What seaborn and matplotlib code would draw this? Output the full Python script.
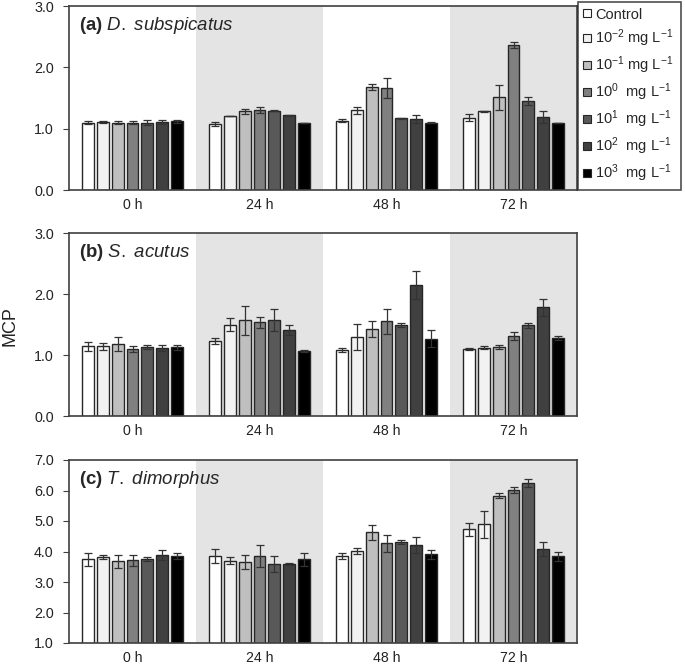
import numpy as np
import pandas as pd
import matplotlib
matplotlib.use("Agg")
import matplotlib.pyplot as plt
from matplotlib.lines import Line2D
import seaborn as sns

# Data: mean and error per time point (rows) and concentration (columns).
times = ["0 h", "24 h", "48 h", "72 h"]
concs = ["Control", "1e-2", "1e-1", "1e0", "1e1", "1e2", "1e3"]
conc_labels = ["Control",
               r"10$^{-2}$ mg L$^{-1}$",
               r"10$^{-1}$ mg L$^{-1}$",
               r"10$^{0}$  mg L$^{-1}$",
               r"10$^{1}$  mg L$^{-1}$",
               r"10$^{2}$  mg L$^{-1}$",
               r"10$^{3}$  mg L$^{-1}$"]
colors = ["#ffffff", "#f2f2f2", "#bfbfbf", "#808080", "#595959", "#404040", "#000000"]

a_mean = [[1.10, 1.11, 1.10, 1.10, 1.10, 1.11, 1.12],
          [1.08, 1.21, 1.28, 1.30, 1.29, 1.22, 1.09],
          [1.13, 1.30, 1.68, 1.66, 1.17, 1.16, 1.10],
          [1.18, 1.28, 1.51, 2.36, 1.45, 1.19, 1.10]]
a_err = [[0.03, 0.02, 0.02, 0.03, 0.04, 0.03, 0.02],
         [0.03, 0.00, 0.04, 0.05, 0.01, 0.01, 0.00],
         [0.02, 0.06, 0.05, 0.16, 0.01, 0.06, 0.01],
         [0.06, 0.01, 0.20, 0.05, 0.06, 0.09, 0.00]]

b_mean = [[1.14, 1.14, 1.18, 1.10, 1.13, 1.11, 1.13],
          [1.23, 1.50, 1.57, 1.54, 1.57, 1.41, 1.07],
          [1.08, 1.30, 1.43, 1.55, 1.49, 2.15, 1.27],
          [1.10, 1.12, 1.13, 1.31, 1.49, 1.78, 1.28]]
b_err = [[0.08, 0.05, 0.11, 0.05, 0.03, 0.05, 0.04],
         [0.05, 0.11, 0.24, 0.09, 0.18, 0.09, 0.02],
         [0.03, 0.21, 0.13, 0.20, 0.03, 0.23, 0.14],
         [0.02, 0.02, 0.03, 0.07, 0.04, 0.14, 0.03]]

c_mean = [[3.74, 3.82, 3.68, 3.71, 3.76, 3.88, 3.84],
          [3.84, 3.70, 3.66, 3.84, 3.58, 3.60, 3.74],
          [3.86, 4.01, 4.63, 4.27, 4.31, 4.21, 3.91],
          [4.73, 4.89, 5.83, 6.02, 6.24, 4.09, 3.84]]
c_err = [[0.22, 0.06, 0.22, 0.19, 0.06, 0.16, 0.10],
         [0.23, 0.11, 0.22, 0.36, 0.26, 0.03, 0.22],
         [0.09, 0.09, 0.24, 0.28, 0.08, 0.27, 0.15],
         [0.22, 0.45, 0.08, 0.11, 0.13, 0.23, 0.15]]

panels = [("(a)", "D.\\ subspicatus", a_mean, a_err, (0, 3), [0, 1, 2, 3]),
          ("(b)", "S.\\ acutus", b_mean, b_err, (0, 3), [0, 1, 2, 3]),
          ("(c)", "T.\\ dimorphus", c_mean, c_err, (1, 7), [1, 2, 3, 4, 5, 6, 7])]

sns.set_style("ticks")
plt.rcParams["font.family"] = ["Liberation Sans", "DejaVu Sans"]
plt.rcParams["mathtext.fontset"] = "custom"
plt.rcParams["mathtext.rm"] = "Liberation Sans"
plt.rcParams["mathtext.it"] = "Liberation Sans:italic"
plt.rcParams["mathtext.bf"] = "Liberation Sans:bold"

fig = plt.figure(figsize=(6.85, 6.66), dpi=100)
W, H = 685, 666
boxes = [(6, 190), (233, 416), (460, 643)]
edge = "#262626"

for (tag, name, mean, err, ylim, yticks), (top, bot) in zip(panels, boxes):
    ax = fig.add_axes([69 / W, 1 - bot / H, (577 - 69) / W, (bot - top) / H])
    df = pd.DataFrame([(t, c, mean[i][j], err[i][j])
                       for i, t in enumerate(times) for j, c in enumerate(concs)],
                      columns=["time", "conc", "mcp", "err"])
    ax.axvspan(0.5, 1.5, color="#e4e4e4", zorder=0, lw=0)
    ax.axvspan(2.5, 3.5, color="#e4e4e4", zorder=0, lw=0)
    sns.barplot(data=df, x="time", y="mcp", hue="conc", order=times, hue_order=concs,
                palette=colors, width=0.82, gap=0.2, errorbar=None,
                edgecolor=edge, linewidth=1.0, legend=False, ax=ax, zorder=2)
    # error bars at the centres of the bars seaborn drew
    bar_groups = list(ax.containers)
    for j, cont in enumerate(bar_groups):
        xs = [p.get_x() + p.get_width() / 2 for p in cont.patches]
        hs = [p.get_height() for p in cont.patches]
        es = df[df["conc"] == concs[j]].set_index("time").loc[times, "err"].values
        ax.errorbar(xs, hs, yerr=es, fmt="none", ecolor="#333333",
                    elinewidth=0.9, capsize=2.7, capthick=0.9, zorder=3)
    ax.set_xlim(-0.5, 3.5)
    ax.set_ylim(*ylim)
    ax.set_yticks(yticks)
    ax.set_yticklabels([f"{v:.1f}" for v in yticks])
    ax.set_xlabel("")
    ax.set_ylabel("")
    ax.tick_params(axis="x", length=0, pad=6, labelsize=10.2, colors="#222222")
    ax.tick_params(axis="y", length=4, width=0.8, pad=7, labelsize=10.3,
                   colors="#404040", labelcolor="#222222")
    for s in ax.spines.values():
        s.set_color("#404040")
        s.set_linewidth(1.2)
        s.set_zorder(4)
    ax.text(0.019, 0.895, rf"$\mathbf{{{tag}}}$ $\mathit{{{name}}}$",
            transform=ax.transAxes, fontsize=13.4, va="center", ha="left", zorder=5)

fig.text(10 / W, 1 - 326 / H, "MCP", rotation=90, ha="center", va="center",
         fontsize=13, color="#222222")

handles = [Line2D([], [], marker="s", ls="none", markersize=5.5,
                  markerfacecolor=c, markeredgecolor=edge, markeredgewidth=0.8)
           for c in colors]
leg = fig.legend(handles, conc_labels, loc="upper left", mode="expand",
                 bbox_to_anchor=(578 / W, 1 - 191 / H, 103 / W, 189 / H),
                 frameon=True, fancybox=False,
                 fontsize=10.5, labelspacing=0.38, handlelength=0.45, handletextpad=0.35,
                 borderpad=0.38, borderaxespad=0)
leg.get_frame().set_edgecolor("#222222")
leg.get_frame().set_linewidth(1.2)

fig.savefig("out.png", dpi=100)
